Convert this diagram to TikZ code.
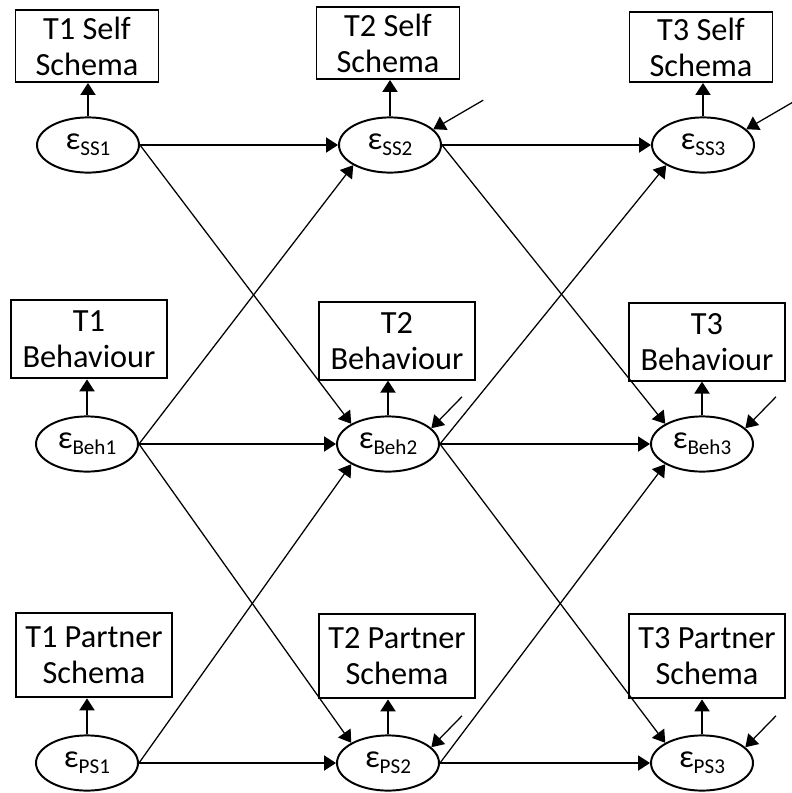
\documentclass[tikz,border=0pt]{standalone}
\usepackage{fontspec}
\setmainfont{Carlito}
\usetikzlibrary{positioning,arrows.meta,calc,shapes.geometric}
\newcommand{\eps}[1]{ε\raisebox{-4.5pt}{\fontsize{15}{15}\selectfont #1}}

\begin{document}
\begin{tikzpicture}[
  >={Triangle[length=0.3cm,width=0.38cm]},
  every node/.style={font=\fontsize{23}{25.6}\selectfont},
  obs/.style={draw,line width=1.4pt,align=center,minimum width=3.575cm,inner xsep=2pt,inner ysep=1pt},
  err/.style={draw,ellipse,line width=1.4pt,minimum width=2.55cm,minimum height=1.38cm,inner sep=0pt},
  link/.style={->,line width=0.9pt}
]
\useasboundingbox (0,0) rectangle (19.8,-19.825);

% latent error terms
\node[err] (ss1)  at (2.2,-3.625)   {\eps{SS1}};
\node[err] (ss2)  at (9.75,-3.625)  {\eps{SS2}};
\node[err] (ss3)  at (17.575,-3.625) {\eps{SS3}};
\node[err] (beh1) at (2.175,-11.1)  {\eps{Beh1}};
\node[err] (beh2) at (9.7,-11.1)    {\eps{Beh2}};
\node[err] (beh3) at (17.55,-11.1)  {\eps{Beh3}};
\node[err] (ps1)  at (2.175,-19.075) {\eps{PS1}};
\node[err] (ps2)  at (9.7,-19.075)  {\eps{PS2}};
\node[err] (ps3)  at (17.55,-19.075) {\eps{PS3}};

% observed measures
\node[obs,minimum height=1.8cm] (ssb1) at (2.175,-1.15) {T1 Self\\Schema};
\node[obs,minimum height=1.8cm] (ssb2) at (9.7,-1.075)  {T2 Self\\Schema};
\node[obs,minimum height=1.75cm] (ssb3) at (17.525,-1.175) {T3 Self\\Schema};
\node[obs,minimum width=3.9cm,minimum height=1.97cm] (behb1) at (2.225,-8.475) {T1\\Behaviour};
\node[obs,minimum width=3.9cm,minimum height=1.93cm] (behb2) at (9.925,-8.525) {T2\\Behaviour};
\node[obs,minimum width=3.9cm,minimum height=1.93cm] (behb3) at (17.675,-8.55) {T3\\Behaviour};
\node[obs,minimum width=3.92cm,minimum height=2.12cm] (psb1) at (2.35,-16.375) {T1 Partner\\Schema};
\node[obs,minimum width=3.9cm,minimum height=2.12cm] (psb2) at (9.925,-16.4) {T2 Partner\\Schema};
\node[obs,minimum width=3.9cm,minimum height=2.12cm] (psb3) at (17.675,-16.4) {T3 Partner\\Schema};

% indicator arrows
\foreach \e/\b in {ss1/ssb1,ss2/ssb2,ss3/ssb3,beh1/behb1,beh2/behb2,beh3/behb3,ps1/psb1,ps2/psb2,ps3/psb3}
  \draw[link] (\e.north) -- (\e.north |- \b.south);

% stability paths
\foreach \a/\b in {ss1/ss2,ss2/ss3,beh1/beh2,beh2/beh3,ps1/ps2,ps2/ps3}
  \draw[link] (\a.east) -- (\b.west);

% cross-lagged paths
\foreach \a/\b in {ss1/beh2,beh1/ps2,ss2/beh3,beh2/ps3}
  \draw[link] (\a.east) -- (\b.north west);
\foreach \a/\b in {beh1/ss2,ps1/beh2,beh2/ss3,ps2/beh3}
  \draw[link] (\a.east) -- (\b.south west);

% residual arrows
\foreach \e in {ss2,ss3}
  \draw[link] ($(\e)+(2.33,1.12)$) -- (\e.20);
\foreach \e in {beh2,beh3,ps2,ps3}
  \draw[link] ($(\e)+(1.85,1.18)$) -- (\e.20);
\end{tikzpicture}
\end{document}
